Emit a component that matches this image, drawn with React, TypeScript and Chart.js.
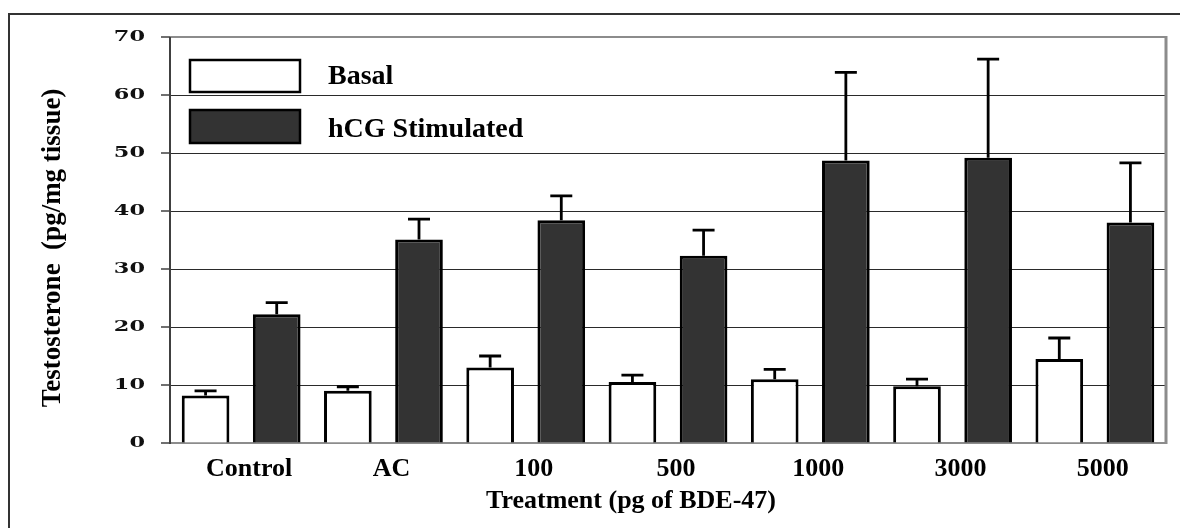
import React, { useEffect, useRef } from "react";
import { Chart, registerables } from "chart.js";

Chart.register(...registerables);

const categories = ["Control", "AC", "100", "500", "1000", "3000", "5000"];
const basalValues = [8.2, 9.0, 13.0, 10.5, 11.0, 9.8, 14.5];
const basalErrors = [0.8, 0.7, 2.0, 1.2, 1.7, 1.2, 3.6];
const hcgValues = [22.2, 35.1, 38.4, 32.3, 48.7, 49.2, 38.0];
const hcgErrors = [2.0, 3.5, 4.2, 4.4, 15.2, 17.0, 10.3];
const yTickValues = [0, 10, 20, 30, 40, 50, 60, 70];
const seriesNames = ["Basal", "hCG Stimulated"];
const seriesFills = ["#ffffff", "#333333"];
const yAxisTitle = "Testosterone  (pg/mg tissue)";
const xAxisTitle = "Treatment (pg of BDE-47)";

const SERIF = '"Liberation Serif", "Times New Roman", serif';

const customPlugin = {
  id: "customDraw",
  beforeDatasetsDraw(chart: any) {
    const { ctx, chartArea: a } = chart;
    const yScale = chart.scales.y;
    ctx.save();
    // outer frame
    ctx.fillStyle = "#333333";
    ctx.fillRect(8, 13, 1172, 2);
    ctx.fillRect(8, 13, 2, 515);
    // plot frame (top, right, bottom) gray
    ctx.strokeStyle = "#8c8c8c";
    ctx.lineWidth = 2;
    ctx.beginPath();
    ctx.moveTo(a.left, a.top);
    ctx.lineTo(a.right, a.top);
    ctx.stroke();
    ctx.lineWidth = 3;
    ctx.beginPath();
    ctx.moveTo(a.right, a.top - 1);
    ctx.lineTo(a.right, a.bottom + 1);
    ctx.stroke();
    ctx.lineWidth = 2;
    ctx.beginPath();
    ctx.moveTo(a.left, a.bottom);
    ctx.lineTo(a.right, a.bottom);
    ctx.stroke();
    // left axis
    ctx.strokeStyle = "#404040";
    ctx.lineWidth = 2;
    ctx.beginPath();
    ctx.moveTo(a.left, a.top);
    ctx.lineTo(a.left, a.bottom + 1);
    ctx.stroke();
    // tick marks and labels
    ctx.lineWidth = 1.5;
    ctx.fillStyle = "#111111";
    ctx.font = 'bold 14px "DejaVu Serif"';
    ctx.textAlign = "right";
    ctx.textBaseline = "middle";
    yTickValues.forEach((v) => {
      const y = yScale.getPixelForValue(v);
      ctx.beginPath();
      ctx.moveTo(a.left - 9, y);
      ctx.lineTo(a.left, y);
      ctx.stroke();
      ctx.save();
      ctx.translate(145, y);
      ctx.scale(1.6, 1);
      ctx.fillText(String(v), 0, 0);
      ctx.restore();
    });
    ctx.restore();
  },
  afterDatasetsDraw(chart: any) {
    const { ctx } = chart;
    const yScale = chart.scales.y;
    const errs = [basalErrors, hcgErrors];
    const vals = [basalValues, hcgValues];
    ctx.save();
    ctx.strokeStyle = "#000000";
    ctx.lineWidth = 2.8;
    [0, 1].forEach((di) => {
      const meta = chart.getDatasetMeta(di);
      meta.data.forEach((bar: any, j: number) => {
        const x = bar.x;
        const yTop = bar.y;
        const yEnd = yScale.getPixelForValue(vals[di][j] + errs[di][j]);
        ctx.beginPath();
        ctx.moveTo(x, yTop);
        ctx.lineTo(x, yEnd);
        ctx.moveTo(x - 11, yEnd);
        ctx.lineTo(x + 11, yEnd);
        ctx.stroke();
      });
    });
    ctx.restore();
  },
  afterDraw(chart: any) {
    const { ctx } = chart;
    ctx.save();
    // legend
    const boxes = [
      [190, 60, 110, 32, 84],
      [190, 110, 110, 33, 137],
    ];
    boxes.forEach((b, i) => {
      ctx.fillStyle = seriesFills[i];
      ctx.fillRect(b[0], b[1], b[2], b[3]);
      ctx.strokeStyle = "#000000";
      ctx.lineWidth = 2.5;
      ctx.strokeRect(b[0], b[1], b[2], b[3]);
      ctx.fillStyle = "#000000";
      ctx.font = `bold 28px ${SERIF}`;
      ctx.textAlign = "left";
      ctx.textBaseline = "alphabetic";
      ctx.fillText(seriesNames[i], 328, b[4]);
    });
    // axis titles
    ctx.fillStyle = "#000000";
    ctx.font = `bold 26px ${SERIF}`;
    ctx.textAlign = "center";
    ctx.textBaseline = "alphabetic";
    ctx.fillText(xAxisTitle, 631, 508);
    ctx.save();
    ctx.translate(60, 248);
    ctx.rotate(-Math.PI / 2);
    ctx.font = `bold 27px ${SERIF}`;
    ctx.fillText(yAxisTitle, 0, 0);
    ctx.restore();
    ctx.restore();
  },
};

export default function App() {
  const canvasRef = useRef<HTMLCanvasElement | null>(null);

  useEffect(() => {
    if (!canvasRef.current) return;
    const chart = new Chart(canvasRef.current, {
      type: "bar",
      data: {
        labels: categories,
        datasets: [
          {
            label: seriesNames[0],
            data: basalValues,
            backgroundColor: seriesFills[0],
            borderColor: "#000000",
            borderWidth: 3,
            barPercentage: 0.67,
            categoryPercentage: 1.0,
          },
          {
            label: seriesNames[1],
            data: hcgValues,
            backgroundColor: seriesFills[1],
            borderColor: "#000000",
            borderWidth: 3,
            barPercentage: 0.67,
            categoryPercentage: 1.0,
          },
        ],
      },
      options: {
        responsive: false,
        maintainAspectRatio: false,
        animation: false,
        layout: { padding: { top: 37, right: 14, left: 0, bottom: 0 } },
        plugins: {
          legend: { display: false },
          tooltip: { enabled: false },
        },
        scales: {
          x: {
            grid: { display: false },
            border: { display: false },
            ticks: {
              color: "#000000",
              font: { family: SERIF, size: 26, weight: "bold" },
              padding: 3,
              labelOffset: 8,
              maxRotation: 0,
              autoSkip: false,
            },
            afterFit: (s: any) => {
              s.height = 85;
            },
          },
          y: {
            min: 0,
            max: 70,
            ticks: { display: false, stepSize: 10 },
            grid: {
              color: (c: any) =>
                c.tick && (c.tick.value === 0 || c.tick.value === 70)
                  ? "rgba(0,0,0,0)"
                  : "#2a2a2a",
              lineWidth: 1,
              drawTicks: false,
            },
            border: { display: false },
            afterFit: (s: any) => {
              s.width = 170;
            },
          },
        },
      },
      plugins: [customPlugin],
    });
    return () => chart.destroy();
  }, []);

  return (
    <div
      style={{
        position: "absolute",
        left: 0,
        top: 0,
        width: 1180,
        height: 528,
        overflow: "hidden",
        background: "#ffffff",
      }}
    >
      <canvas
        ref={canvasRef}
        width={1180}
        height={528}
        style={{ display: "block", width: 1180, height: 528 }}
      />
    </div>
  );
}
